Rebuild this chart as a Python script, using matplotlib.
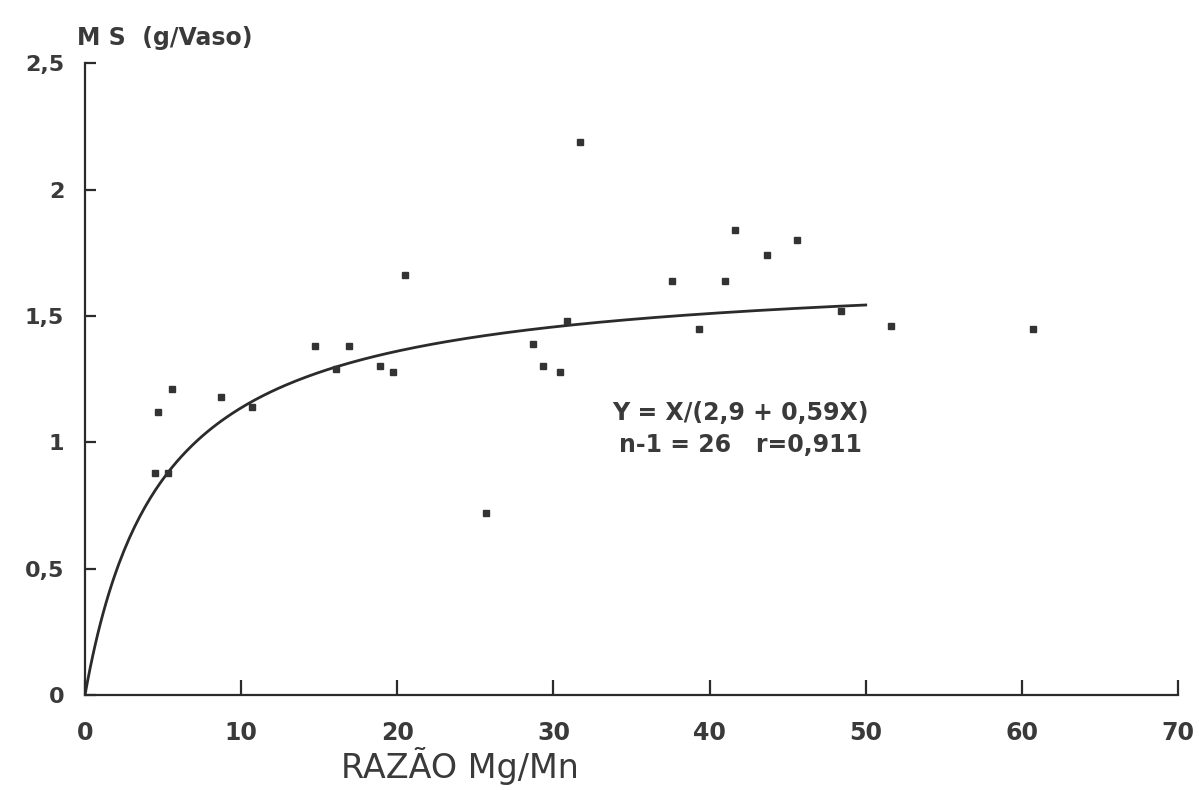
import numpy as np
import matplotlib
matplotlib.use("Agg")
import matplotlib.pyplot as plt

plt.rcParams['font.family'] = ['DejaVu Sans']

# Mg/Mn ratio (x) and dry matter (y)
razao = [4.5, 5.3, 4.7, 5.6, 8.7, 10.7, 14.7, 16.1, 16.9, 18.9, 19.7, 20.5, 25.7,
         28.7, 29.3, 30.4, 30.9, 31.7, 37.6, 39.3, 41.0, 41.6, 43.7, 45.6, 48.4,
         51.6, 60.7]
ms = [0.88, 0.88, 1.12, 1.21, 1.18, 1.14, 1.38, 1.29, 1.38, 1.30, 1.28, 1.66, 0.72,
      1.39, 1.30, 1.28, 1.48, 2.19, 1.64, 1.45, 1.64, 1.84, 1.74, 1.80, 1.52,
      1.46, 1.45]

# fitted model Y = X/(a + bX)
a, b = 2.9, 0.59
x_fit = np.linspace(0, 50, 300)
y_fit = x_fit / (a + b * x_fit)

x_ticks = [0, 10, 20, 30, 40, 50, 60, 70]
y_ticks = [0, 0.5, 1, 1.5, 2, 2.5]
y_labels = ['0', '0,5', '1', '1,5', '2', '2,5']

ink = '#2b2b2b'
txt = '#3a3a3a'

fig = plt.figure(figsize=(11.99, 7.90), dpi=100)
ax = fig.add_axes([0.0709, 0.1203, 0.9116, 0.7997])

ax.plot(x_fit, y_fit, color=ink, lw=2.0)
ax.plot(razao, ms, ls='none', marker='s', ms=4.5, color='#333333')

ax.set_xlim(0, 70)
ax.set_ylim(0, 2.5)
ax.spines['top'].set_visible(False)
ax.spines['right'].set_visible(False)
for s in ('left', 'bottom'):
    ax.spines[s].set_linewidth(1.6)
    ax.spines[s].set_color(ink)

ax.set_xticks(x_ticks)
ax.set_xticklabels([str(t) for t in x_ticks], fontsize=17, fontweight='bold', color=txt)
ax.set_yticks(y_ticks)
ax.set_yticklabels(y_labels, fontsize=16, fontweight='bold', color=txt)
ax.tick_params(axis='x', direction='in', length=11, width=1.6, color=ink, pad=19)
ax.tick_params(axis='y', direction='in', length=8, width=1.6, color=ink, pad=15)

ax.set_xlabel('RAZÃO Mg/Mn', fontsize=24, color=txt)
ax.xaxis.label.set_va('baseline')
ax.xaxis.set_label_coords(0.343, -0.132)

fig.text(0.064, 0.952, 'M S  (g/Vaso)', fontsize=17, fontweight='bold', color=txt,
         ha='left', va='center')

ax.text(42.0, 1.115, 'Y = X/(2,9 + 0,59X)', fontsize=17, fontweight='bold',
        color=txt, ha='center', va='center')
ax.text(42.0, 0.99, 'n-1 = 26   r=0,911', fontsize=17, fontweight='bold',
        color=txt, ha='center', va='center')

fig.savefig('out.png', dpi=100)
